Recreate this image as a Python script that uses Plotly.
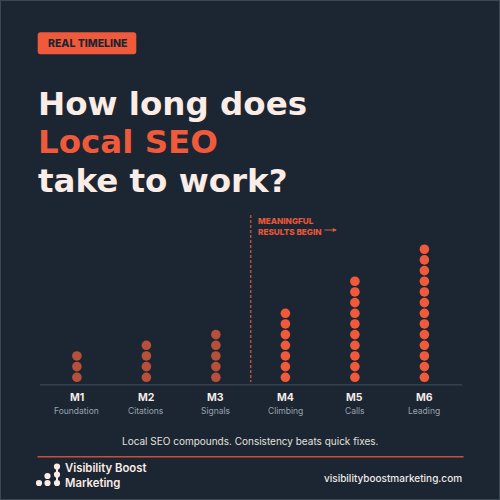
import plotly.graph_objects as go

# ---- data ----
months = ["M1", "M2", "M3", "M4", "M5", "M6"]
stages = ["Foundation", "Citations", "Signals", "Climbing", "Calls", "Leading"]
dot_counts = [3, 4, 5, 7, 10, 13]
meaningful = [False, False, False, True, True, True]

BG = "#1b2632"
ORANGE = "#f05a3a"
MUTED = "#b7503a"
WHITE = "#fbece6"
FONT = "Inter"

W = H = 500
def px(x): return x / W
def py(y): return 1 - y / H

fig = go.Figure()

for i, (m, n, good) in enumerate(zip(months, dot_counts, meaningful)):
    fig.add_trace(go.Scatter(
        x=[i] * n, y=list(range(1, n + 1)), mode="markers",
        marker=dict(size=9.6, color=ORANGE if good else MUTED, line=dict(width=0)),
        hoverinfo="skip", showlegend=False))

shapes = []
ann = []

# border
shapes.append(dict(type="rect", xref="paper", yref="paper", x0=0, x1=1, y0=0, y1=1,
                   line=dict(color="#3b4753", width=2), fillcolor="rgba(0,0,0,0)"))
# baseline
shapes.append(dict(type="line", xref="paper", yref="paper", x0=px(40), x1=px(462),
                   y0=py(384.8), y1=py(384.8), line=dict(color="#34424f", width=1.5)))
# dashed divider
shapes.append(dict(type="line", xref="paper", yref="paper", x0=px(250.7), x1=px(250.7),
                   y0=py(215), y1=py(382), line=dict(color=MUTED, width=1.5, dash="3px,2px")))
# orange rule
shapes.append(dict(type="line", xref="paper", yref="paper", x0=px(37.5), x1=px(463.5),
                   y0=py(456.7), y1=py(456.7), line=dict(color="#c8503a", width=1.5)))
# badge (rounded)
x0, x1, y0, y1, r = 37.7, 136.3, 32.3, 54.3, 3
def P(x, y): return f"{px(x)},{py(y)}"
path = (f"M {P(x0+r,y0)} L {P(x1-r,y0)} Q {P(x1,y0)} {P(x1,y0+r)} L {P(x1,y1-r)} Q {P(x1,y1)} {P(x1-r,y1)} "
        f"L {P(x0+r,y1)} Q {P(x0,y1)} {P(x0,y1-r)} L {P(x0,y0+r)} Q {P(x0,y0)} {P(x0+r,y0)} Z")
shapes.append(dict(type="path", xref="paper", yref="paper", path=path,
                   fillcolor=ORANGE, line=dict(width=0)))

# logo dots
logo_dots = [(39, 483), (47.5, 483), (47.5, 476), (57, 466.5), (57, 474.5), (57, 483)]
lr = 3.1
for (cx, cy) in logo_dots:
    shapes.append(dict(type="circle", xref="paper", yref="paper",
                       x0=px(cx - lr), x1=px(cx + lr), y0=py(cy + lr), y1=py(cy - lr),
                       fillcolor=WHITE, line=dict(width=0)))
shapes.append(dict(type="line", xref="paper", yref="paper", x0=px(57), x1=px(57),
                   y0=py(466.5), y1=py(483), line=dict(color=WHITE, width=2)))

def text(x, y, s, size, color, weight=400, xanchor="left", family=FONT, align="left", yanchor="middle"):
    ann.append(dict(xref="paper", yref="paper", x=px(x), y=py(y), text=s, showarrow=False,
                    xanchor=xanchor, yanchor=yanchor, align=align,
                    font=dict(family=family, size=size, color=color, weight=weight)))

text(87, 43.8, "REAL TIMELINE", 10.5, BG, 800, "center")

# title: base size sets line spacing (1.3em), spans set glyph size
T = "font-size:32.5px"
title_html = (f"<span style='{T}'>How long does</span><br>"
              f"<span style='{T};color:{ORANGE}'>Local SEO</span><br>"
              f"<span style='{T}'>take to work?</span>")
text(36, 142, title_html, 29.6, WHITE, 700, family="DejaVu Sans")

text(256, 221.3, "MEANINGFUL", 8.2, "#e8573a", 800)
text(256, 231.7, "RESULTS BEGIN", 8.2, "#e8573a", 800)
ann.append(dict(xref="paper", yref="paper", x=px(337), y=py(230), ax=-14, ay=0,
                text="", showarrow=True, arrowhead=2, arrowsize=0.7, arrowwidth=1.2,
                arrowcolor="#e8573a"))

for i, (m, s) in enumerate(zip(months, stages)):
    ann.append(dict(xref="x", yref="paper", x=i, y=py(397.5), text=f"<b>{m}</b>", showarrow=False,
                    yanchor="middle", font=dict(family=FONT, size=10.5, color="#f3ece8", weight=700)))
    ann.append(dict(xref="x", yref="paper", x=i, y=py(410.7), text=s, showarrow=False,
                    yanchor="middle", font=dict(family=FONT, size=8.5, color="#9aa3ad")))

text(250, 440.7, "Local SEO compounds. Consistency beats quick fixes.", 10, "#e4e0de", 400, "center")
text(63, 475.5, "Visibility Boost<br>Marketing", 11.3, WHITE, 600)
text(463.5, 477.7, "visibilityboostmarketing.com", 10, "#eeeae8", 500, "right")

fig.update_layout(
    width=W, height=H, margin=dict(l=0, r=0, t=0, b=0),
    paper_bgcolor=BG, plot_bgcolor=BG,
    xaxis=dict(range=[-1.1065, 6.088], visible=False, fixedrange=True),
    yaxis=dict(range=[-10.5, 36.36], visible=False, fixedrange=True),
    shapes=shapes, annotations=ann, showlegend=False,
)

fig.write_html("out.html", config={"displayModeBar": False},
               post_script="document.body.style.margin='0';document.body.style.overflow='hidden';")
